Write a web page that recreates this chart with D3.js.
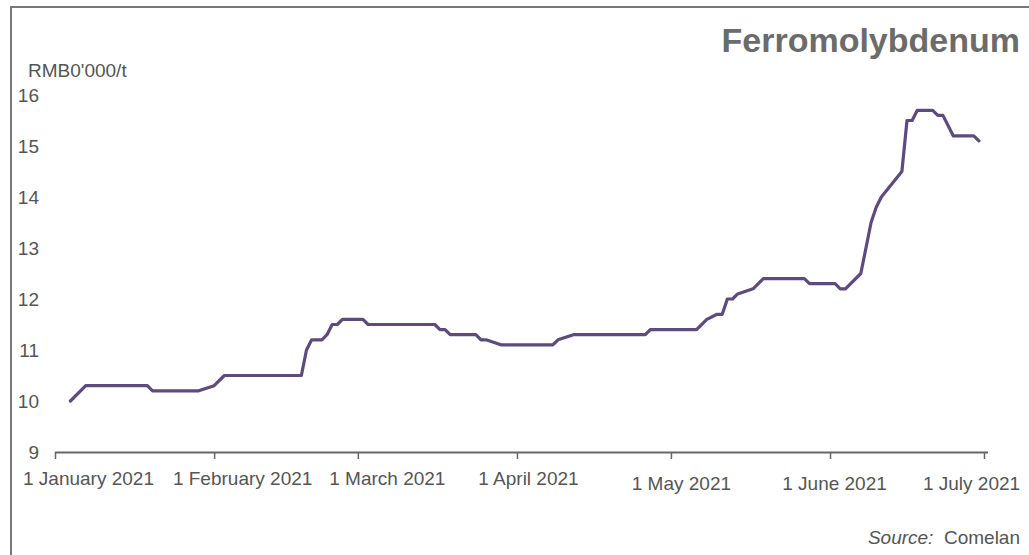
<!DOCTYPE html>
<html>
<head>
<meta charset="utf-8">
<script src="https://cdn.jsdelivr.net/npm/d3@7/dist/d3.min.js"></script>
<style>
  body { margin: 0; background: #fff; }
  svg { display: block; font-family: "Liberation Sans", Arial, sans-serif; }
</style>
</head>
<body>
<div id="chart"></div>
<script>
// Dados
const dates = [
  "2021-01-04", "2021-01-07", "2021-01-19", "2021-01-20", "2021-01-29", "2021-02-01",
  "2021-02-03", "2021-02-18", "2021-02-19", "2021-02-20", "2021-02-22", "2021-02-23",
  "2021-02-24", "2021-02-25", "2021-02-26", "2021-03-02", "2021-03-03", "2021-03-16",
  "2021-03-17", "2021-03-18", "2021-03-19", "2021-03-24", "2021-03-25", "2021-03-26",
  "2021-03-29", "2021-04-08", "2021-04-09", "2021-04-12", "2021-04-26", "2021-04-27",
  "2021-05-06", "2021-05-08", "2021-05-10", "2021-05-11", "2021-05-12", "2021-05-13",
  "2021-05-14", "2021-05-17", "2021-05-19", "2021-05-27", "2021-05-28", "2021-06-02",
  "2021-06-03", "2021-06-04", "2021-06-07", "2021-06-09", "2021-06-10", "2021-06-11",
  "2021-06-15", "2021-06-16", "2021-06-17", "2021-06-18", "2021-06-21", "2021-06-22",
  "2021-06-23", "2021-06-25", "2021-06-29", "2021-06-30"
];
const prices = [
  10.0, 10.3, 10.3, 10.2, 10.2, 10.3,
  10.5, 10.5, 11.0, 11.2, 11.2, 11.3,
  11.5, 11.5, 11.6, 11.6, 11.5, 11.5,
  11.4, 11.4, 11.3, 11.3, 11.2, 11.2,
  11.1, 11.1, 11.2, 11.3, 11.3, 11.4,
  11.4, 11.6, 11.7, 11.7, 12.0, 12.0,
  12.1, 12.2, 12.4, 12.4, 12.3, 12.3,
  12.2, 12.2, 12.5, 13.5, 13.8, 14.0,
  14.5, 15.5, 15.5, 15.7, 15.7, 15.6,
  15.6, 15.2, 15.2, 15.1
];
const tickDates = ["2021-01-01", "2021-02-01", "2021-03-01", "2021-04-01", "2021-05-01", "2021-06-01", "2021-07-01"];
const tickLabels = ["1 January 2021", "1 February 2021", "1 March 2021", "1 April 2021", "1 May 2021", "1 June 2021", "1 July 2021"];
const yTicks = [9, 10, 11, 12, 13, 14, 15, 16];

const title = "Ferromolybdenum";
const unitLabel = "RMB0'000/t";

// Deslocamento dos rótulos do eixo X (como no original)
const labelShift = [[33, 0], [28, 0], [29, 0], [11, 0], [10, 5], [4, 5], [-13, 5]];

const W = 1029, H = 555;
const margin = { top: 95, right: 45, bottom: 103, left: 55 };
const textColor = "#555";
const lineColor = "#5e4b7e";

const parse = d3.timeParse("%Y-%m-%d");
const data = dates.map((d, i) => ({ date: parse(d), value: prices[i] }));

const svg = d3.select("#chart")
  .append("svg")
  .attr("width", W)
  .attr("height", H);

// Moldura
svg.append("rect")
  .attr("x", 11)
  .attr("y", 7)
  .attr("width", W + 20)
  .attr("height", H + 20)
  .attr("fill", "none")
  .attr("stroke", "#777")
  .attr("stroke-width", 2);

// Escalas
const x = d3.scaleTime()
  .domain([parse(tickDates[0]), parse(tickDates[tickDates.length - 1])])
  .range([margin.left, W - margin.right]);

const y = d3.scaleLinear()
  .domain([9, 16])
  .range([H - margin.bottom, margin.top]);

// Eixo X
const xAxis = svg.append("g")
  .attr("transform", `translate(0,${H - margin.bottom})`)
  .call(d3.axisBottom(x)
    .tickValues(tickDates.map(parse))
    .tickSize(7)
    .tickSizeOuter(0)
    .tickFormat((d, i) => tickLabels[i]));

xAxis.select(".domain")
  .attr("d", `M${margin.left},0.5H${W - margin.right + 4}`)
  .attr("stroke", "#666")
  .attr("stroke-width", 2);
xAxis.selectAll(".tick line").attr("stroke", "#666").attr("stroke-width", 1.5);
xAxis.selectAll(".tick text")
  .attr("fill", textColor)
  .style("font-size", "19px")
  .attr("y", 0)
  .attr("dy", 0)
  .attr("transform", (d, i) => `translate(${labelShift[i][0]},${33 + labelShift[i][1]})`);

// Eixo Y (só rótulos)
svg.append("g")
  .selectAll("text")
  .data(yTicks)
  .enter()
  .append("text")
  .attr("x", 39)
  .attr("y", d => y(d))
  .attr("dy", "0.36em")
  .attr("text-anchor", "end")
  .attr("fill", textColor)
  .style("font-size", "19px")
  .text(d => d);

// Unidade
svg.append("text")
  .attr("x", 28)
  .attr("y", 77)
  .attr("fill", textColor)
  .style("font-size", "19px")
  .text(unitLabel);

// Título
svg.append("text")
  .attr("x", 1020)
  .attr("y", 52)
  .attr("text-anchor", "end")
  .attr("fill", "#6b6b6b")
  .style("font-size", "34px")
  .style("font-weight", "bold")
  .text(title);

// Linha
const line = d3.line()
  .x(d => x(d.date))
  .y(d => y(d.value));

svg.append("path")
  .datum(data)
  .attr("d", line)
  .attr("fill", "none")
  .attr("stroke", lineColor)
  .attr("stroke-width", 3.2)
  .attr("stroke-linejoin", "round")
  .attr("stroke-linecap", "round");

// Fonte
const source = svg.append("text")
  .attr("x", 1020)
  .attr("y", 544)
  .attr("text-anchor", "end")
  .attr("fill", textColor)
  .style("font-size", "19px");
source.append("tspan").style("font-style", "italic").text("Source:");
source.append("tspan").text("\u00a0 Comelan");
</script>
</body>
</html>
